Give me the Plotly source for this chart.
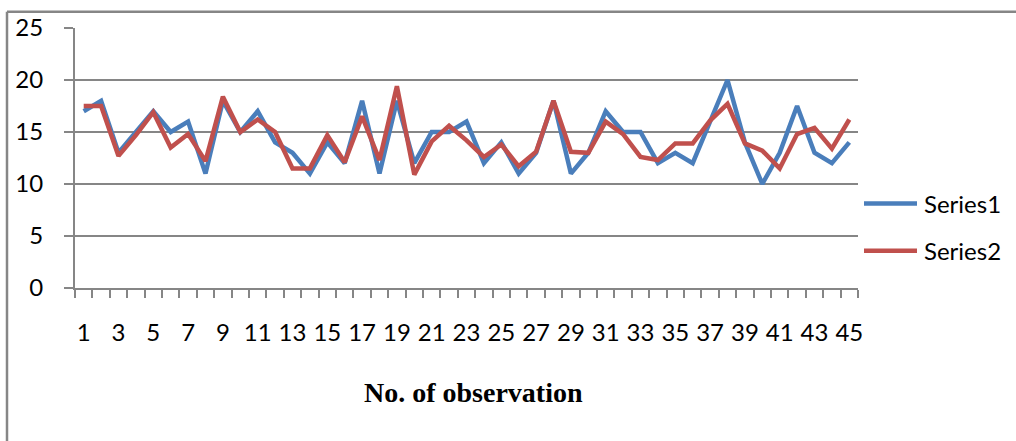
import plotly.graph_objects as go

observations = list(range(1, 46))
series1 = [17, 18, 13, 15, 17, 15, 16, 11, 18, 15,
           17, 14, 13, 11, 14, 12, 18, 11, 18, 12,
           15, 15, 16, 12, 14, 11, 13, 18, 11, 13,
           17, 15, 15, 12, 13, 12, 16, 20, 14, 10,
           13, 17.5, 13, 12, 14]
series2 = [17.5, 17.5, 12.7, 14.7, 16.9, 13.5, 14.8, 12.2, 18.4, 15.0,
           16.2, 15.0, 11.5, 11.5, 14.7, 12.1, 16.5, 12.3, 19.4, 10.9,
           14.1, 15.6, 14.2, 12.6, 13.8, 11.7, 13.1, 18.0, 13.1, 13.0,
           16.0, 14.8, 12.6, 12.3, 13.9, 13.9, 16.1, 17.7, 13.9, 13.2,
           11.5, 14.8, 15.4, 13.4, 16.2]
series_names = ["Series1", "Series2"]
series_colors = ["#4A7EBB", "#C0504D"]
tick_labels = [str(i) for i in range(1, 46, 2)]
x_title = "No. of observation"

W, H = 1016, 441
L, R, T, B = 75, 158, 22, 153
pw, ph = W - L - R, H - T - B

def px_x(x):
    return (x - L) / pw

def px_y(y):
    return (H - B - y) / ph

fig = go.Figure()
for name, vals, col in zip(series_names, [series1, series2], series_colors):
    fig.add_trace(go.Scatter(x=observations, y=vals, mode="lines", name=name,
                             line=dict(color=col, width=4.5)))

font = dict(family="Lato, Carlito, Calibri, sans-serif", size=24, color="#000000")

shapes = [
    dict(type="line", xref="paper", yref="paper",
         x0=px_x(7), x1=px_x(1030), y0=px_y(5.5), y1=px_y(5.5),
         line=dict(color="#868686", width=2.5)),
    dict(type="line", xref="paper", yref="paper",
         x0=px_x(7), x1=px_x(7), y0=px_y(5.5), y1=px_y(460),
         line=dict(color="#868686", width=2.5)),
]
annotations = [dict(text="<b>" + x_title + "</b>", xref="paper", yref="paper",
                    x=px_x(473), y=px_y(395), xanchor="center", yanchor="middle",
                    showarrow=False,
                    font=dict(family="Liberation Serif, Times New Roman, serif",
                              size=28, color="#000000"))]
# legend (manual, to match the long legend keys)
for i, (name, col) in enumerate(zip(series_names, series_colors)):
    ly = 201.5 + i * 48.5
    shapes.append(dict(type="line", xref="paper", yref="paper",
                       x0=px_x(864), x1=px_x(917), y0=px_y(ly), y1=px_y(ly),
                       line=dict(color=col, width=4.5)))
    annotations.append(dict(text=name, xref="paper", yref="paper",
                            x=px_x(922), y=px_y(ly), xanchor="left", yanchor="middle",
                            showarrow=False, font=font))

fig.update_layout(
    width=W, height=H,
    margin=dict(l=L, r=R, t=T, b=B, pad=0),
    paper_bgcolor="white", plot_bgcolor="white",
    font=font,
    showlegend=False,
    xaxis=dict(range=[0.5, 45.5], tickmode="array",
               tickvals=list(range(1, 46, 2)), ticktext=tick_labels,
               ticks="", showgrid=False, zeroline=False,
               showline=True, linecolor="#868686", linewidth=2,
               ticklabelstandoff=22, tickfont=font,
               minor=dict(tick0=0.5, dtick=1, ticks="outside", ticklen=8,
                          tickcolor="#868686", tickwidth=1.5, showgrid=False)),
    yaxis=dict(range=[0, 25], dtick=5, tick0=0,
               ticks="outside", ticklen=9, tickcolor="#868686", tickwidth=2,
               showgrid=True, gridcolor="#868686", gridwidth=2,
               zeroline=False, showline=True, linecolor="#868686", linewidth=2,
               ticklabelstandoff=16, tickfont=font),
    annotations=annotations,
    shapes=shapes,
)

fig.write_html("out.html")
